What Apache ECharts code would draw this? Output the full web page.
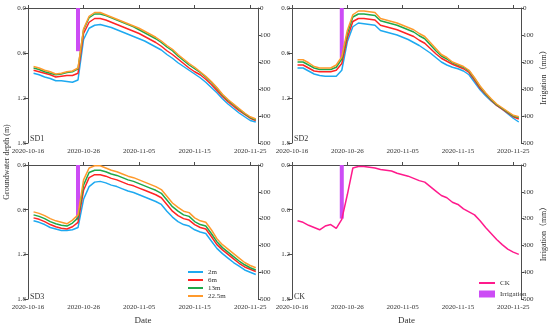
<!DOCTYPE html>
<html>
<head>
<meta charset="utf-8">
<script src="https://cdn.jsdelivr.net/npm/echarts@6/dist/echarts.min.js"></script>
<style>html,body{margin:0;padding:0;background:#fff}#c{width:550px;height:326px}</style>
</head>
<body>
<div id="c"></div>
<script>
// ---------- data ----------
const startDate = '2020-10-16';              // x-axis origin
const firstObs = '2020-10-17';               // first observation day (daily to 2020-11-26)
const xTickLabels = ['2020-10-16', '2020-10-26', '2020-11-05', '2020-11-15', '2020-11-25'];
const depthTicks = ['0.0', '0.6', '1.2', '1.8'];
const irrTicks = ['0', '100', '200', '300', '400', '500'];
const panelNames = ['SD1', 'SD2', 'SD3', 'CK'];
const depthNames = ['2m', '6m', '13m', '22.5m'];
const irrigationDate = '2020-10-25';
const irrigationAmount = [160, 185, 205, 200];   // per panel, mm

const sd1_2m   = [0.87,0.89,0.92,0.94,0.97,0.97,0.98,0.99,0.96,0.42,0.27,0.23,0.22,0.24,0.26,0.29,0.32,0.35,0.38,0.41,0.44,0.48,0.52,0.56,0.62,0.67,0.73,0.78,0.83,0.88,0.93,0.99,1.06,1.13,1.21,1.28,1.34,1.40,1.45,1.50,1.52];
const sd1_6m   = [0.83,0.85,0.87,0.89,0.92,0.91,0.90,0.90,0.87,0.34,0.19,0.14,0.14,0.16,0.19,0.22,0.25,0.28,0.31,0.34,0.38,0.42,0.46,0.51,0.57,0.62,0.68,0.74,0.80,0.85,0.89,0.95,1.02,1.10,1.18,1.25,1.31,1.37,1.42,1.47,1.50];
const sd1_13m  = [0.80,0.82,0.85,0.87,0.89,0.88,0.86,0.85,0.81,0.29,0.13,0.08,0.08,0.10,0.13,0.16,0.19,0.22,0.25,0.29,0.33,0.37,0.41,0.46,0.52,0.57,0.64,0.70,0.76,0.81,0.86,0.92,0.99,1.07,1.16,1.23,1.29,1.35,1.41,1.46,1.49];
const sd1_225m = [0.78,0.80,0.83,0.85,0.88,0.87,0.85,0.84,0.80,0.28,0.11,0.06,0.06,0.09,0.12,0.15,0.18,0.21,0.24,0.27,0.31,0.35,0.39,0.44,0.50,0.55,0.62,0.68,0.74,0.79,0.85,0.91,0.98,1.06,1.15,1.22,1.28,1.34,1.40,1.45,1.48];

const sd2_2m   = [0.80,0.80,0.84,0.88,0.90,0.91,0.91,0.91,0.83,0.45,0.25,0.20,0.21,0.22,0.23,0.30,0.32,0.34,0.36,0.39,0.42,0.46,0.50,0.55,0.60,0.66,0.72,0.76,0.79,0.81,0.84,0.89,0.99,1.09,1.17,1.24,1.30,1.35,1.41,1.47,1.52];
const sd2_6m   = [0.76,0.76,0.80,0.84,0.85,0.85,0.85,0.83,0.74,0.40,0.18,0.14,0.14,0.15,0.16,0.23,0.25,0.27,0.29,0.32,0.35,0.38,0.43,0.47,0.54,0.61,0.67,0.71,0.75,0.78,0.81,0.86,0.96,1.07,1.15,1.23,1.30,1.35,1.40,1.45,1.48];
const sd2_13m  = [0.72,0.72,0.76,0.80,0.82,0.82,0.82,0.79,0.68,0.34,0.12,0.08,0.08,0.09,0.10,0.17,0.19,0.21,0.23,0.26,0.29,0.32,0.37,0.41,0.49,0.57,0.64,0.68,0.73,0.76,0.79,0.84,0.94,1.05,1.14,1.22,1.29,1.34,1.39,1.44,1.46];
const sd2_225m = [0.69,0.69,0.73,0.78,0.80,0.80,0.80,0.76,0.65,0.30,0.09,0.04,0.04,0.05,0.06,0.14,0.16,0.18,0.20,0.23,0.26,0.29,0.34,0.38,0.46,0.54,0.62,0.66,0.72,0.75,0.78,0.83,0.93,1.04,1.13,1.21,1.28,1.33,1.38,1.43,1.45];

const sd3_2m   = [0.75,0.77,0.80,0.84,0.86,0.88,0.88,0.87,0.84,0.46,0.29,0.23,0.22,0.24,0.27,0.29,0.32,0.35,0.37,0.40,0.43,0.46,0.49,0.53,0.62,0.70,0.76,0.80,0.82,0.87,0.90,0.92,1.02,1.12,1.19,1.25,1.31,1.36,1.41,1.44,1.47];
const sd3_6m   = [0.71,0.73,0.76,0.80,0.83,0.85,0.86,0.83,0.77,0.34,0.17,0.13,0.13,0.15,0.18,0.20,0.23,0.26,0.28,0.31,0.34,0.37,0.40,0.44,0.53,0.62,0.68,0.72,0.74,0.80,0.84,0.86,0.96,1.07,1.14,1.20,1.26,1.32,1.37,1.40,1.43];
const sd3_13m  = [0.67,0.69,0.72,0.76,0.79,0.81,0.82,0.78,0.71,0.27,0.10,0.07,0.07,0.09,0.12,0.14,0.17,0.20,0.22,0.25,0.28,0.31,0.34,0.38,0.47,0.56,0.62,0.67,0.69,0.76,0.80,0.82,0.92,1.03,1.11,1.17,1.23,1.29,1.34,1.38,1.41];
const sd3_225m = [0.63,0.65,0.68,0.72,0.75,0.77,0.79,0.74,0.67,0.20,0.04,0.01,0.01,0.04,0.07,0.09,0.12,0.15,0.17,0.20,0.23,0.26,0.29,0.33,0.42,0.51,0.57,0.62,0.64,0.71,0.75,0.77,0.87,0.99,1.07,1.13,1.19,1.25,1.31,1.35,1.38];

const ck       = [0.75,0.77,0.81,0.84,0.87,0.82,0.80,0.85,0.73,0.40,0.04,0.02,0.02,0.03,0.04,0.06,0.07,0.08,0.11,0.13,0.15,0.18,0.21,0.23,0.29,0.35,0.41,0.44,0.50,0.53,0.59,0.63,0.67,0.75,0.84,0.92,1.00,1.07,1.13,1.17,1.20];

// ---------- helpers ----------
const DAY = 86400000;
const t0 = Date.parse(startDate + 'T00:00:00Z');
const dayOf = s => Math.round((Date.parse(s + 'T00:00:00Z') - t0) / DAY);
const obsStart = dayOf(firstObs);
const toPairs = arr => arr.map((v, i) => [obsStart + i, v]);

const colors = { '2m': '#1EA9F0', '6m': '#FF2424', '13m': '#1FA84A', '22.5m': '#FF9A2C', 'CK': '#FF1A8C', 'Irrigation': '#CC4CF5' };
const font = 'Liberation Serif';
const axisColor = '#4d4d4d';

const grids = [
  { left: 28, top: 8, width: 230, height: 135 },
  { left: 292, top: 8, width: 229, height: 135 },
  { left: 28, top: 165, width: 230, height: 136 },
  { left: 292, top: 165, width: 229, height: 136 }
];

const xAxes = grids.map((g, i) => ({
  type: 'value', gridIndex: i, min: 0, max: 41.4, interval: 10,
  name: i >= 2 ? 'Date' : '', nameLocation: 'middle', nameGap: 17,
  nameTextStyle: { fontFamily: font, fontSize: 9, color: '#333' },
  axisLine: { show: true, lineStyle: { color: axisColor, width: 1 } },
  axisTick: { show: true, inside: true, length: 3, lineStyle: { color: axisColor } },
  axisLabel: { fontFamily: font, fontSize: 7, color: '#333', margin: 5, showMaxLabel: false,
    formatter: v => (Math.abs(v % 10) < 1e-9 ? xTickLabels[Math.round(v / 10)] : '') },
  splitLine: { show: false }
}));

const yAxes = [];
grids.forEach((g, i) => {
  yAxes.push({
    type: 'value', gridIndex: i, position: 'left', inverse: true, min: 0, max: 1.8, interval: 0.6,
    axisLine: { show: true, lineStyle: { color: axisColor, width: 1 } },
    axisTick: { show: true, inside: false, length: 4, lineStyle: { color: axisColor } },
    axisLabel: { fontFamily: font, fontSize: 7, color: '#333', margin: 2,
      formatter: v => depthTicks[Math.round(v / 0.6)] },
    splitLine: { show: false }
  });
  yAxes.push({
    type: 'value', gridIndex: i, position: 'right', inverse: true, min: 0, max: 500, interval: 100,
    name: (i % 2 === 1) ? 'Irrigation（mm）' : '', nameLocation: 'middle', nameRotate: 90, nameGap: 19,
    nameTextStyle: { fontFamily: font + ', Noto Sans CJK SC', fontSize: 8, color: '#333' },
    axisLine: { show: true, lineStyle: { color: axisColor, width: 1 } },
    axisTick: { show: true, inside: false, length: 3, lineStyle: { color: axisColor } },
    axisLabel: { fontFamily: font, fontSize: 7, color: '#333', margin: 2,
      formatter: v => irrTicks[Math.round(v / 100)] },
    splitLine: { show: false }
  });
});

const series = [];
const lineSeries = (name, data, gi) => ({
  type: 'line', name, data: toPairs(data), xAxisIndex: gi, yAxisIndex: gi * 2,
  symbol: 'none', lineStyle: { color: colors[name], width: 1.5 }, itemStyle: { color: colors[name] },
  z: 3
});
const barSeries = gi => ({
  type: 'bar', name: 'Irrigation', data: [[dayOf(irrigationDate), irrigationAmount[gi]]],
  xAxisIndex: gi, yAxisIndex: gi * 2 + 1, barWidth: 4, itemStyle: { color: colors['Irrigation'] }, z: 2
});
const panels = [
  [sd1_2m, sd1_6m, sd1_13m, sd1_225m],
  [sd2_2m, sd2_6m, sd2_13m, sd2_225m],
  [sd3_2m, sd3_6m, sd3_13m, sd3_225m]
];
panels.forEach((arrs, gi) => {
  series.push(barSeries(gi));
  arrs.forEach((a, k) => series.push(lineSeries(depthNames[k], a, gi)));
});
series.push(barSeries(3));
series.push(lineSeries('CK', ck, 3));

const graphics = [
  { type: 'text', x: 30, y: 135, style: { text: panelNames[0], fontFamily: font, fontSize: 8, fill: '#333' } },
  { type: 'text', x: 294, y: 135, style: { text: panelNames[1], fontFamily: font, fontSize: 8, fill: '#333' } },
  { type: 'text', x: 30, y: 293, style: { text: panelNames[2], fontFamily: font, fontSize: 8, fill: '#333' } },
  { type: 'text', x: 294, y: 293, style: { text: panelNames[3], fontFamily: font, fontSize: 8, fill: '#333' } },
  { type: 'text', x: 7, y: 162, rotation: Math.PI / 2,
    style: { text: 'Groundwater depth (m)', fontFamily: font, fontSize: 8, fill: '#333', align: 'center', verticalAlign: 'middle' } }
];

const legendText = { fontFamily: font, fontSize: 7, color: '#333', lineHeight: 8 };
const chart = echarts.init(document.getElementById('c'), null, { renderer: 'canvas' });
chart.setOption({
  animation: false,
  backgroundColor: '#fff',
  grid: grids,
  xAxis: xAxes,
  yAxis: yAxes,
  legend: [
    { data: depthNames, orient: 'vertical', left: 188, top: 268, icon: 'rect', itemWidth: 15, itemHeight: 2, itemGap: 0,
      textStyle: legendText, padding: 0, selectedMode: false },
    { data: ['CK'], orient: 'vertical', left: 479, top: 279, icon: 'rect', itemWidth: 16, itemHeight: 2,
      textStyle: legendText, padding: 0, selectedMode: false },
    { data: ['Irrigation'], orient: 'vertical', left: 479, top: 290, icon: 'rect', itemWidth: 16, itemHeight: 7,
      textStyle: legendText, padding: 0, selectedMode: false }
  ],
  graphic: graphics,
  series
});
</script>
</body>
</html>
